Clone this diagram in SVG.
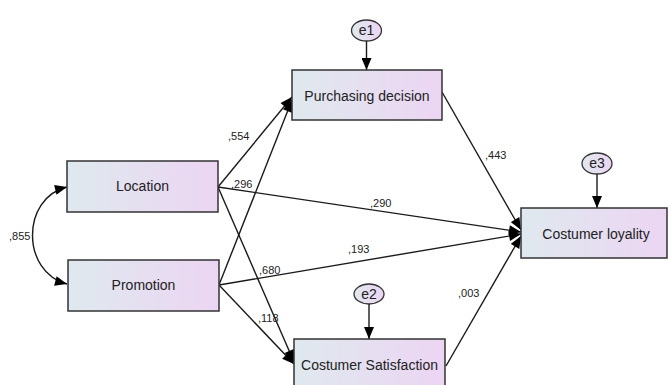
<svg xmlns="http://www.w3.org/2000/svg" width="668" height="385" viewBox="0 0 668 385">
<defs>
<linearGradient id="g" x1="0" y1="0" x2="1" y2="0">
<stop offset="0" stop-color="#dfe9ee"/>
<stop offset="1" stop-color="#ecd5f3"/>
</linearGradient>
<marker id="ah" viewBox="0 0 12 10" refX="12" refY="5" markerWidth="13" markerHeight="10" markerUnits="userSpaceOnUse" orient="auto-start-reverse">
<path d="M0,0 L12,5 L0,10 z" fill="#000"/>
</marker>
<style>
.box{fill:url(#g);stroke:#333;stroke-width:1.5}
.err{fill:url(#g);stroke:#333;stroke-width:1.3}
.lbl{font-family:"Liberation Sans",Arial,sans-serif;font-size:14px;fill:#222;text-anchor:middle}
.num{font-family:"Liberation Sans",Arial,sans-serif;font-size:11px;fill:#222}
.c{fill:none;stroke:#1a1a1a;stroke-width:1.4;marker-end:url(#ah)}
</style>
</defs>
<rect width="668" height="385" fill="#fff"/>
<g id="connectors">
<path class="c" d="M218,187 L292,97"/>
<path class="c" d="M219,285 L292,100"/>
<path class="c" d="M218,187 L294,362"/>
<path class="c" d="M219,285 L294,364"/>
<path class="c" d="M218,187 L521,232"/>
<path class="c" d="M219,285 L521,234"/>
<path class="c" d="M442,92 L521,230"/>
<path class="c" d="M446,366 L521,236"/>
<path class="c" d="M366.5,41 L366.5,70"/>
<path class="c" d="M369,304 L369,339"/>
<path class="c" d="M597,174 L597,208"/>
<path class="c" style="marker-start:url(#ah)" d="M67,187 C21,198 21,272 67,284"/>
</g>
<g id="labels">
<text class="num" x="9" y="240">,855</text>
<text class="num" x="228" y="140">,554</text>
<text class="num" x="231" y="188">,296</text>
<text class="num" x="370" y="207">,290</text>
<text class="num" x="348" y="253">,193</text>
<text class="num" x="259" y="274">,680</text>
<text class="num" x="258" y="322">,118</text>
<text class="num" x="485" y="159">,443</text>
<text class="num" x="458" y="297">,003</text>
</g>
<g id="location">
<rect class="box" x="67" y="161" width="151" height="51"/>
<text class="lbl" x="142.5" y="191">Location</text>
</g>
<g id="promotion">
<rect class="box" x="68" y="260" width="151" height="51"/>
<text class="lbl" x="143.5" y="290">Promotion</text>
</g>
<g id="purchasing">
<rect class="box" x="292" y="70" width="150" height="50"/>
<text class="lbl" x="367" y="101">Purchasing decision</text>
</g>
<g id="satisfaction">
<rect class="box" x="294" y="339" width="151" height="52"/>
<text class="lbl" x="369.5" y="370">Costumer Satisfaction</text>
</g>
<g id="loyalty">
<rect class="box" x="521" y="208" width="146" height="50"/>
<text class="lbl" x="596" y="239">Costumer loyality</text>
</g>
<g id="e1">
<ellipse class="err" cx="366.5" cy="30.5" rx="15" ry="10.5"/>
<text class="lbl" x="366.5" y="35">e1</text>
</g>
<g id="e2">
<ellipse class="err" cx="369" cy="294" rx="15" ry="10"/>
<text class="lbl" x="369" y="298.5">e2</text>
</g>
<g id="e3">
<ellipse class="err" cx="597" cy="163.5" rx="15" ry="10.5"/>
<text class="lbl" x="597" y="168">e3</text>
</g>
</svg>
